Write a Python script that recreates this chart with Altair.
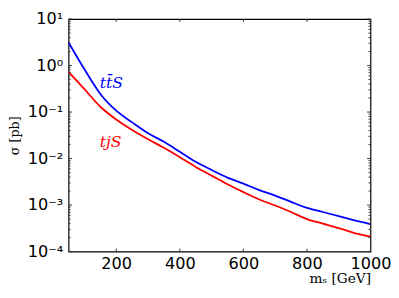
import altair as alt
import pandas as pd

# data
mass = [50, 100, 150, 200, 250, 300, 350, 400, 450, 500, 550, 600, 650, 700, 750, 800, 850, 900, 950, 1000]
sigma_ttS = [3.14, 0.83, 0.245, 0.107, 0.060, 0.035, 0.023, 0.014, 0.0085, 0.0057, 0.0039, 0.0029,
             0.0021, 0.0016, 0.00117, 0.00087, 0.00071, 0.00058, 0.00047, 0.00039]
sigma_tjS = [0.73, 0.31, 0.13, 0.069, 0.041, 0.026, 0.017, 0.0107, 0.0066, 0.0043, 0.0028, 0.0019,
             0.00132, 0.00098, 0.00071, 0.0005, 0.0004, 0.00032, 0.00025, 0.00021]
series_names = ["ttS", "tjS"]
series_colors = ["#0000ff", "#ff0000"]
label_text = ["tt\u0304S", "tjS"]
label_mass = [148, 148]
label_sigma = [0.41, 0.023]

x_ticks = [200, 400, 600, 800, 1000]
y_major = [1e-4, 1e-3, 1e-2, 1e-1, 1, 10]
y_minor = [k * 10.0 ** e for e in range(-4, 1) for k in range(2, 10)]
x_domain = [50, 1000]
y_domain = [1e-4, 10]
W, H = 309, 238

df = pd.DataFrame({
    "m": mass * 2,
    "sigma": sigma_ttS + sigma_tjS,
    "series": [series_names[0]] * len(mass) + [series_names[1]] * len(mass),
})
lab = pd.DataFrame({"m": label_mass, "sigma": label_sigma, "text": label_text, "series": series_names})

xs = alt.Scale(domain=x_domain, nice=False, zero=False)
ys = alt.Scale(type="log", domain=y_domain, nice=False)
cs = alt.Scale(domain=series_names, range=series_colors)

sup = "['⁻⁴','⁻³','⁻²','⁻¹','⁰','¹'][round(log(datum.value)/LN10)+4]"

lines = alt.Chart(df).mark_line(strokeWidth=1.8, interpolate="monotone").encode(
    x=alt.X("m:Q", scale=xs, axis=alt.Axis(values=x_ticks, format="d", title="mₛ  [GeV]", titleAnchor="end",
                                           titleFont="DejaVu Serif", titleFontSize=14, titleFontWeight="normal",
                                           titleBaseline="alphabetic", titleY=32,
                                           labelFontSize=16.5, labelFont="DejaVu Sans",
                                           labelColor="black", labelPadding=4, ticks=False, domain=False,
                                           grid=False, labelFlush=False, titleColor="black")),
    y=alt.Y("sigma:Q", scale=ys, axis=alt.Axis(values=y_major, labelExpr="'10' + " + sup, title="σ [pb]",
                                               titleFont="DejaVu Serif", titleFontSize=13, titleFontWeight="normal",
                                               titlePadding=6, labelFontSize=16.5, labelFont="DejaVu Sans",
                                               labelColor="black", labelPadding=6, ticks=False, domain=False,
                                               grid=False, titleColor="black")),
    color=alt.Color("series:N", scale=cs, legend=None),
)

labels = alt.Chart(lab).mark_text(font="DejaVu Serif", fontStyle="italic", fontSize=16, align="left").encode(
    x=alt.X("m:Q", scale=xs), y=alt.Y("sigma:Q", scale=ys),
    text="text:N", color=alt.Color("series:N", scale=cs, legend=None),
)

# inward tick segments, lengths converted from pixels to data units
dx_per_px = (x_domain[1] - x_domain[0]) / W
dec_per_px = 5.0 / H
rows = []
for m in x_ticks:
    rows.append((m, m, y_domain[0], y_domain[0] * 10 ** (3 * dec_per_px)))
    rows.append((m, m, y_domain[1], y_domain[1] / 10 ** (3 * dec_per_px)))
for s in y_major:
    rows.append((x_domain[0], x_domain[0] + 3.5 * dx_per_px, s, s))
    rows.append((x_domain[1], x_domain[1] - 3.5 * dx_per_px, s, s))
for s in y_minor:
    rows.append((x_domain[0], x_domain[0] + 2 * dx_per_px, s, s))
    rows.append((x_domain[1], x_domain[1] - 2 * dx_per_px, s, s))
tk = pd.DataFrame(rows, columns=["m", "m2", "sigma", "sigma2"])
tick_layer = alt.Chart(tk).mark_rule(color="#333333", strokeWidth=1).encode(
    x=alt.X("m:Q", scale=xs), x2="m2:Q", y=alt.Y("sigma:Q", scale=ys), y2="sigma2:Q")

chart = alt.layer(lines, labels, tick_layer).properties(
    width=W, height=H, background="white",
    padding={"left": 0, "top": 0, "right": 0, "bottom": 0}
).configure_view(stroke="black", strokeWidth=1.2)

chart.save("out.html", embed_options={"renderer": "svg", "actions": False})
